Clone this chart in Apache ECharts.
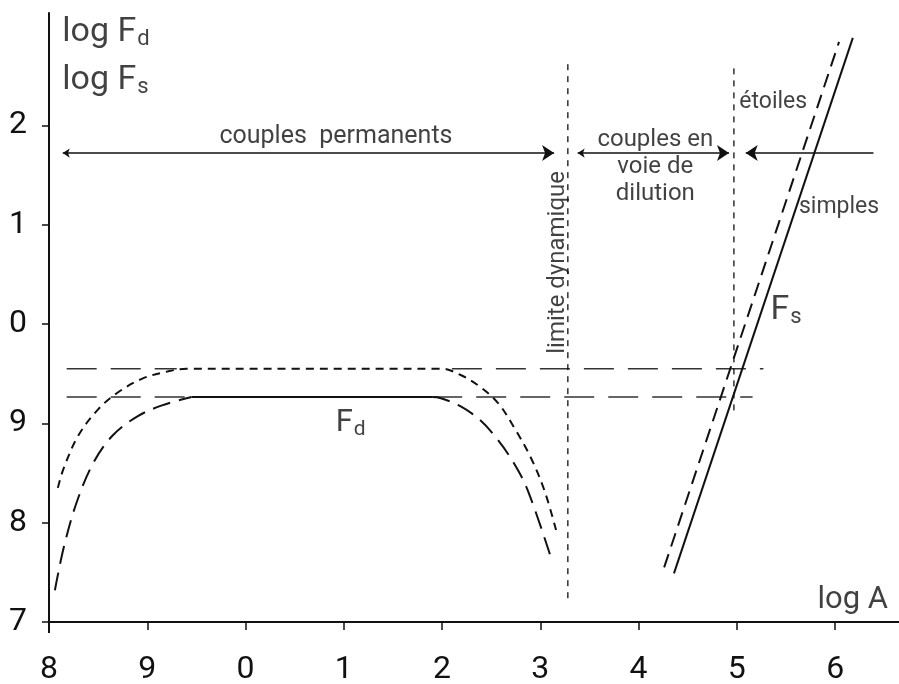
<!DOCTYPE html>
<html>
<head>
<meta charset="utf-8">
<script src="https://cdn.jsdelivr.net/npm/echarts@6/dist/echarts.min.js"></script>
<style>
html,body{margin:0;padding:0;background:#fff;}
#c{width:899px;height:684px;}
</style>
</head>
<body>
<div id="c"></div>
<script>
// ---- data ----
var xTicks = [8, 9, 10, 11, 12, 13, 14, 15, 16];
var yTicks = [7, 8, 9, 10, 11, 12];

// F_d, upper curve (short dashes)
var fdUpper = [[8.09,8.35],[8.15,8.55],[8.30,8.88],[8.50,9.14],[8.70,9.31],[8.95,9.45],[9.20,9.52],[9.40,9.55],[10.5,9.55],[11.99,9.55],[12.19,9.486],[12.39,9.365],[12.57,9.204],[12.73,8.963],[12.90,8.661],[13.04,8.329],[13.16,7.926]];
// F_d, lower curve (long dashes) : rise, plateau, fall
var fdLowerRise = [[8.06,7.32],[8.15,7.75],[8.28,8.20],[8.45,8.60],[8.65,8.88],[8.90,9.07],[9.15,9.18],[9.45,9.265]];
var fdLowerFlat = [[9.45,9.265],[11.9,9.265]];
var fdLowerFall = [[11.9,9.265],[11.98,9.255],[12.19,9.17],[12.39,9.03],[12.57,8.83],[12.73,8.60],[12.87,8.33],[13.11,7.644]];

// horizontal reference levels
var levelUpperA = [[8.18,9.55],[9.3,9.55]];
var levelUpperB = [[12.1,9.55],[15.27,9.55]];
var levelLowerA = [[8.18,9.265],[9.45,9.265]];
var levelLowerB = [[11.9,9.265],[15.16,9.265]];

// vertical limits
var limitDyn = [[13.28,7.24],[13.28,12.66]];
var limitEtoiles = [[14.97,9.13],[14.97,12.63]];

// F_s lines
var fsSimples = [[14.36,7.49],[16.18,12.88]];
var fsEtoiles = [[14.26,7.55],[16.04,12.84]];

// arrows
var arrowY = 11.72;
var arrowPermanents = [[8.14,arrowY],[13.14,arrowY]];
var arrowDilution = [[13.38,arrowY],[14.92,arrowY]];
var arrowSimples = [[16.39,arrowY],[15.09,arrowY]];

// axis extensions
var xAxisExt = [[7.89,7],[8,7]];
var yAxisExt = [[8,6.89],[8,7]];

// ---- chart ----
var FONT = 'Roboto';
var INK = '#111';
var chart = echarts.init(document.getElementById('c'));

function lineS(data, width, dash, color, smooth) {
  return {
    type: 'line', data: data, showSymbol: false, symbol: 'none', silent: true,
    smooth: smooth || false, clip: false, z: 3,
    lineStyle: { color: color || INK, width: width, type: dash || 'solid', cap: 'butt' }
  };
}
function arrowS(coords, symbols) {
  return {
    type: 'lines', coordinateSystem: 'cartesian2d', silent: true, z: 4,
    symbol: symbols, symbolSize: [7, 12],
    lineStyle: { color: INK, width: 1.6, opacity: 1 },
    data: [{ coords: coords }]
  };
}
function textS(x, y, fmt, pos, rot, rich, extra) {
  var lab = Object.assign({
    show: true, position: pos || 'inside', distance: 0, formatter: fmt,
    color: INK, fontFamily: FONT, fontSize: 22, rotate: rot || 0, rich: rich || {}
  }, extra || {});
  return {
    type: 'scatter', silent: true, symbolSize: 1, z: 5,
    itemStyle: { color: 'rgba(0,0,0,0)' },
    label: lab,
    data: [[x, y]]
  };
}
function subRich(big, small, lh, pad) {
  return {
    m: { fontFamily: FONT, fontSize: big, color: INK, lineHeight: lh },
    s: { fontFamily: FONT, fontSize: small, color: INK, lineHeight: lh, padding: [pad, 0, 0, 1] }
  };
}

var option = {
  animation: false,
  backgroundColor: '#fff',
  grid: { left: 49, right: 0, top: 13, bottom: 62, outerBoundsMode: 'none', containLabel: false },
  xAxis: {
    type: 'value', min: 8, max: 16.65,
    axisLine: { show: true, lineStyle: { color: INK, width: 2 } },
    axisTick: { show: true, length: 8, lineStyle: { color: INK, width: 1.5 }, customValues: xTicks },
    axisLabel: {
      show: true, customValues: xTicks, margin: 32, color: INK, fontFamily: FONT, fontSize: 32,
      formatter: function (v) { return String(Math.round(v) % 10); }
    },
    splitLine: { show: false }
  },
  yAxis: {
    type: 'value', min: 7, max: 13.13,
    axisLine: { show: true, lineStyle: { color: INK, width: 2 } },
    axisTick: { show: true, length: 7, lineStyle: { color: INK, width: 1.5 }, customValues: yTicks },
    axisLabel: {
      show: true, customValues: yTicks, margin: 22, color: INK, fontFamily: FONT, fontSize: 32,
      formatter: function (v) { return String(Math.round(v) % 10); }
    },
    splitLine: { show: false }
  },
  series: [
    lineS(xAxisExt, 2, 'solid'),
    lineS(yAxisExt, 2, 'solid'),
    lineS(levelUpperA, 1.5, [30, 14], '#333'),
    lineS(levelUpperB, 1.5, [30, 14], '#333'),
    lineS(levelLowerA, 1.5, [30, 14], '#333'),
    lineS(levelLowerB, 1.5, [30, 14], '#333'),
    lineS(fdUpper, 2, [8, 6], INK, 0.35),
    lineS(fdLowerRise, 2, [18, 9], INK, 0.35),
    lineS(fdLowerFlat, 2.2, 'solid'),
    lineS(fdLowerFall, 2, [18, 9], INK, 0.35),
    lineS(limitDyn, 1.3, [6, 6]),
    lineS(limitEtoiles, 1.3, [6, 6]),
    lineS(fsSimples, 2, 'solid'),
    lineS(fsEtoiles, 2, [14, 8]),
    arrowS(arrowPermanents, ['arrow', 'arrow']),
    arrowS(arrowDilution, ['arrow', 'arrow']),
    arrowS(arrowSimples, ['none', 'arrow']),
    textS(10.92, 11.88, 'couples  permanents', 'inside', 0, null, { fontSize: 25 }),
    textS(14.17, 11.58, 'couples en\nvoie de\ndilution', 'inside', 0, null, { fontSize: 24, lineHeight: 27, align: 'center' }),
    textS(13.18, 10.62, 'limite dynamique', 'inside', 90, null, { fontSize: 24 }),
    textS(15.37, 12.23, 'étoiles', 'inside', 0, null, { fontSize: 23 }),
    textS(16.04, 11.17, 'simples', 'inside', 0, null, { fontSize: 23 }),
    textS(15.50, 10.14, '{m|F}{s|s}', 'inside', 0, subRich(34, 22, 40, 14)),
    textS(11.07, 9.0, '{m|F}{s|d}', 'inside', 0, subRich(31, 21, 36, 12)),
    textS(8.13, 12.93, '{m|log F}{s|d}', 'right', 0, subRich(34, 22, 40, 14)),
    textS(8.13, 12.455, '{m|log F}{s|s}', 'right', 0, subRich(34, 22, 40, 14)),
    textS(16.18, 7.22, 'log A', 'inside', 0, null, { fontSize: 31 })
  ]
};
chart.setOption(option);
</script>
</body>
</html>
